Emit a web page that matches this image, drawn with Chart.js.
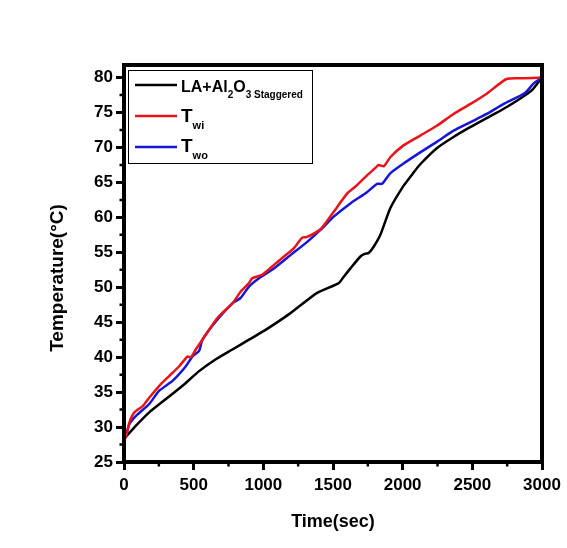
<!DOCTYPE html>
<html>
<head>
<meta charset="utf-8">
<script src="https://cdn.jsdelivr.net/npm/chart.js@4"></script>
<style>
  html, body { margin: 0; padding: 0; background: #fff; }
  #wrap { width: 567px; height: 548px; }
</style>
</head>
<body>
<div id="wrap"><canvas id="c" width="567" height="548"></canvas></div>
<script>
// Temperature history (°C) against time (s)
const blackTime = [0, 14, 86, 181, 301, 420, 539, 659, 778, 897, 1016, 1195, 1386, 1541, 1577, 1625, 1697, 1732, 1756, 1792, 1840, 1911, 2006, 2078, 2126, 2245, 2365, 2484, 2603, 2722, 2866, 2937, 3000];
const blackTemp = [28.3, 28.6, 30.2, 32.1, 34.0, 35.9, 38.0, 39.7, 41.1, 42.5, 43.9, 46.3, 49.2, 50.6, 51.5, 52.7, 54.4, 54.8, 54.9, 55.8, 57.5, 61.3, 64.5, 66.4, 67.6, 69.9, 71.5, 72.9, 74.2, 75.5, 77.3, 78.4, 80.0];

const twiTime = [0, 14, 38, 74, 134, 181, 253, 324, 396, 456, 480, 515, 563, 670, 778, 838, 897, 921, 993, 1076, 1148, 1220, 1279, 1315, 1410, 1505, 1601, 1661, 1744, 1800, 1828, 1864, 1911, 2006, 2126, 2245, 2365, 2484, 2603, 2746, 2866, 3000];
const twiTemp = [28.3, 28.6, 30.6, 32.1, 33.0, 34.2, 35.9, 37.3, 38.7, 40.1, 40.0, 41.1, 42.5, 45.6, 47.7, 49.4, 50.6, 51.3, 51.8, 53.2, 54.4, 55.6, 57.1, 57.2, 58.3, 60.8, 63.4, 64.4, 66.0, 67.0, 67.5, 67.3, 68.6, 70.3, 71.7, 73.1, 74.8, 76.2, 77.7, 79.8, 79.9, 80.0];

const twoTime = [0, 14, 38, 86, 181, 253, 348, 444, 491, 539, 563, 659, 778, 838, 897, 969, 1076, 1195, 1315, 1410, 1505, 1625, 1744, 1816, 1852, 1911, 2006, 2126, 2245, 2365, 2484, 2603, 2722, 2878, 2937, 3000];
const twoTemp = [28.3, 28.75, 30.4, 31.6, 33.3, 35.2, 36.6, 38.7, 40.1, 40.9, 42.5, 45.1, 47.7, 48.5, 50.1, 51.3, 52.7, 54.6, 56.5, 58.2, 60.1, 62.0, 63.6, 64.8, 64.8, 66.3, 67.7, 69.3, 70.8, 72.4, 73.6, 74.8, 76.2, 77.8, 79.1, 80.0];

const xTicks = [0, 500, 1000, 1500, 2000, 2500, 3000];
const yTicks = [25, 30, 35, 40, 45, 50, 55, 60, 65, 70, 75, 80];
const xMinorTicks = [250, 750, 1250, 1750, 2250, 2750];
const yMinorTicks = [27.5, 32.5, 37.5, 42.5, 47.5, 52.5, 57.5, 62.5, 67.5, 72.5, 77.5];

const FONT = "'Liberation Sans', Arial, sans-serif";
const pts = (xs, ys) => xs.map((x, i) => ({ x: x, y: ys[i] }));

// frame, minor ticks, axis titles and legend with subscripts
const decor = {
  id: 'decor',
  afterDraw(chart) {
    const { ctx, chartArea: a, scales } = chart;
    const xs = scales.x, ys = scales.y;
    ctx.save();
    ctx.strokeStyle = '#000';
    ctx.fillStyle = '#000';

    // minor ticks
    ctx.lineWidth = 2.5;
    ctx.beginPath();
    yMinorTicks.forEach(v => {
      const p = ys.getPixelForValue(v);
      ctx.moveTo(a.left, p); ctx.lineTo(a.left - 4.5, p);
    });
    xMinorTicks.forEach(v => {
      const p = xs.getPixelForValue(v);
      ctx.moveTo(p, a.bottom); ctx.lineTo(p, a.bottom + 4.5);
    });
    ctx.stroke();

    // frame
    ctx.lineWidth = 4;
    ctx.strokeRect(a.left, a.top, a.right - a.left, a.bottom - a.top);

    // axis titles
    ctx.textAlign = 'center';
    ctx.textBaseline = 'middle';
    ctx.font = 'bold 18px ' + FONT;
    ctx.fillText('Time(sec)', (a.left + a.right) / 2, 522);
    ctx.save();
    ctx.translate(58, 278);
    ctx.rotate(-Math.PI / 2);
    ctx.font = 'bold 19px ' + FONT;
    ctx.fillText('Temperature(°C)', 0, 0);
    ctx.restore();

    // legend
    ctx.lineWidth = 1;
    ctx.strokeRect(128.5, 70.5, 184, 93);
    const rows = [
      { color: '#000', y: 85, parts: [['LA+Al', 16, 0], ['2', 10, 6], ['O', 16, 0], ['3 Staggered', 10, 6]], base: 92 },
      { color: 'rgb(232,20,26)', y: 116, parts: [['T', 19, 0], ['wi', 11, 7]], base: 122 },
      { color: 'rgb(22,22,215)', y: 147, parts: [['T', 19, 0], ['wo', 11, 7]], base: 152 }
    ];
    ctx.textAlign = 'left';
    ctx.textBaseline = 'alphabetic';
    rows.forEach(r => {
      ctx.strokeStyle = r.color;
      ctx.lineWidth = 2.5;
      ctx.beginPath();
      ctx.moveTo(135, r.y); ctx.lineTo(177, r.y);
      ctx.stroke();
      let x = 181;
      ctx.fillStyle = '#000';
      r.parts.forEach(([t, size, dy]) => {
        ctx.font = 'bold ' + size + 'px ' + FONT;
        ctx.fillText(t, x, r.base + dy);
        x += ctx.measureText(t).width;
      });
    });
    ctx.restore();
  }
};

const lineDs = (label, data, color) => ({
  label: label,
  data: data,
  borderColor: color,
  borderWidth: 2.5,
  pointRadius: 0,
  tension: 0.2,
  fill: false
});

new Chart(document.getElementById('c'), {
  type: 'line',
  data: {
    datasets: [
      lineDs('T_wi', pts(twiTime, twiTemp), 'rgb(232,20,26)'),
      lineDs('T_wo', pts(twoTime, twoTemp), 'rgb(22,22,215)'),
      lineDs('LA+Al2O3 Staggered', pts(blackTime, blackTemp), '#000')
    ]
  },
  options: {
    responsive: false,
    animation: false,
    events: [],
    layout: { padding: { left: 0, top: 65, right: 25, bottom: 0 } },
    plugins: { legend: { display: false }, tooltip: { enabled: false } },
    scales: {
      x: {
        type: 'linear',
        min: 0, max: 3000,
        afterFit: s => { s.height = 86; },
        afterBuildTicks: s => { s.ticks = xTicks.map(v => ({ value: v })); },
        ticks: { color: '#000', padding: 5, maxRotation: 0, callback: v => String(v), font: { family: FONT, size: 17, weight: 'bold' } },
        grid: { drawOnChartArea: false, drawTicks: true, tickLength: 8, tickWidth: 3, tickColor: '#000' },
        border: { display: false }
      },
      y: {
        type: 'linear',
        min: 25, max: 81.8,
        afterFit: s => { s.width = 124; },
        afterBuildTicks: s => { s.ticks = yTicks.map(v => ({ value: v })); },
        ticks: { color: '#000', padding: 3, callback: v => String(v), font: { family: FONT, size: 17, weight: 'bold' } },
        grid: { drawOnChartArea: false, drawTicks: true, tickLength: 8, tickWidth: 3, tickColor: '#000' },
        border: { display: false }
      }
    }
  },
  plugins: [decor]
});
</script>
</body>
</html>
